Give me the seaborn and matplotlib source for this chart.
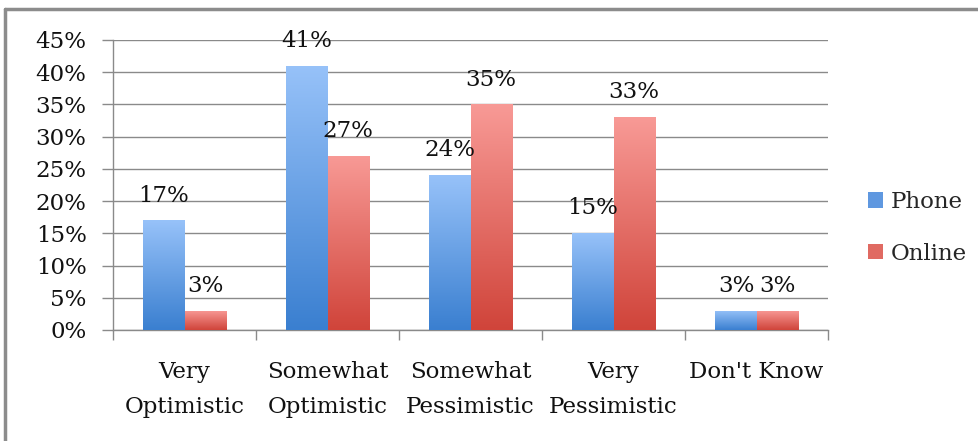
import numpy as np
import pandas as pd
import matplotlib
matplotlib.use("Agg")
import matplotlib.pyplot as plt
from matplotlib.colors import LinearSegmentedColormap
from matplotlib.patches import Rectangle
import seaborn as sns

categories = ["Very\nOptimistic", "Somewhat\nOptimistic", "Somewhat\nPessimistic",
              "Very\nPessimistic", "Don't Know"]
phone = [17, 41, 24, 15, 3]
online = [3, 27, 35, 33, 3]
series = ["Phone", "Online"]
yticks = [0, 5, 10, 15, 20, 25, 30, 35, 40, 45]

df = pd.DataFrame({
    "category": categories * 2,
    "value": phone + online,
    "series": ["Phone"] * len(categories) + ["Online"] * len(categories),
})

sns.set_theme(style="white")
plt.rcParams["font.family"] = ["DejaVu Serif"]

FS = 16.5

# top (light) -> bottom (dark) shading for each series
shades = {
    "Phone": ("#97c2f9", "#3a7fd0"),
    "Online": ("#f89a96", "#d0443a"),
}
mid = {"Phone": "#5f98e0", "Online": "#e06a62"}

fig = plt.figure(figsize=(9.79, 4.41), dpi=100)
ax = fig.add_axes([113 / 979, 1 - 330 / 441, (828 - 113) / 979, (330 - 40) / 441])

sns.barplot(data=df, x="category", y="value", hue="series", hue_order=series,
            palette=mid, width=0.574, gap=0, ax=ax, legend=False, zorder=3,
            linewidth=0, saturation=1)

ax.set_ylim(0, 45)
ax.set_xlim(-0.5, len(categories) - 0.5)
ax.set_yticks(yticks)
ax.set_yticklabels([f"{t}%" for t in yticks])
ax.grid(axis="y", color="#8a8a8a", linewidth=1, zorder=0)
ax.set_axisbelow(True)

for name, cont in zip(series, ax.containers):
    cmap = LinearSegmentedColormap.from_list(name, [shades[name][1], shades[name][0]])
    for bar in cont:
        x0, y0 = bar.get_x(), bar.get_y()
        w, h = bar.get_width(), bar.get_height()
        grad = np.linspace(0, 1, 256).reshape(-1, 1)
        im = ax.imshow(grad, cmap=cmap, origin="lower", aspect="auto",
                       extent=(x0, x0 + w, y0, y0 + h), zorder=4)
        im.set_clip_path(bar)
        bar.set_alpha(0)
    ax.bar_label(cont, labels=[f"{v:g}%" for v in cont.datavalues],
                 padding=10, fontsize=FS, color="#111111", zorder=5)

ax.set_xlim(-0.5, len(categories) - 0.5)
ax.set_ylim(0, 45)

for side in ["top", "right"]:
    ax.spines[side].set_visible(False)
for side in ["left", "bottom"]:
    ax.spines[side].set_color("#8a8a8a")
    ax.spines[side].set_linewidth(1)

ax.set_xlabel("")
ax.set_ylabel("")
ax.tick_params(axis="y", length=8, width=1, color="#8a8a8a", labelsize=FS,
               labelcolor="#111111", pad=11, left=True)
ax.set_xticks(range(len(categories)))
ax.set_xticklabels(categories, fontsize=FS, color="#111111", linespacing=1.8)
ax.tick_params(axis="x", which="major", length=0, pad=22)
ax.set_xticks(np.arange(-0.5, len(categories)), minor=True)
ax.tick_params(axis="x", which="minor", length=7, width=1, color="#8a8a8a", bottom=True)

# legend
handles = [Rectangle((0, 0), 1, 1, facecolor=mid[s], edgecolor="none") for s in series]
fig.legend(handles, series, loc="center left", bbox_to_anchor=(847 / 979, 1 - 228 / 441),
           frameon=False, fontsize=FS, handlelength=0.65, handleheight=0.65,
           handletextpad=0.35, labelspacing=1.3)

# outer chart frame (top and left edges)
fig.add_artist(plt.Line2D([5 / 979, 1], [1 - 9 / 441, 1 - 9 / 441], transform=fig.transFigure,
                          color="#8c8c8c", linewidth=2.5))
fig.add_artist(plt.Line2D([5 / 979, 5 / 979], [0, 1 - 9 / 441], transform=fig.transFigure,
                          color="#8c8c8c", linewidth=2.5))

fig.savefig("out.png", dpi=100)
